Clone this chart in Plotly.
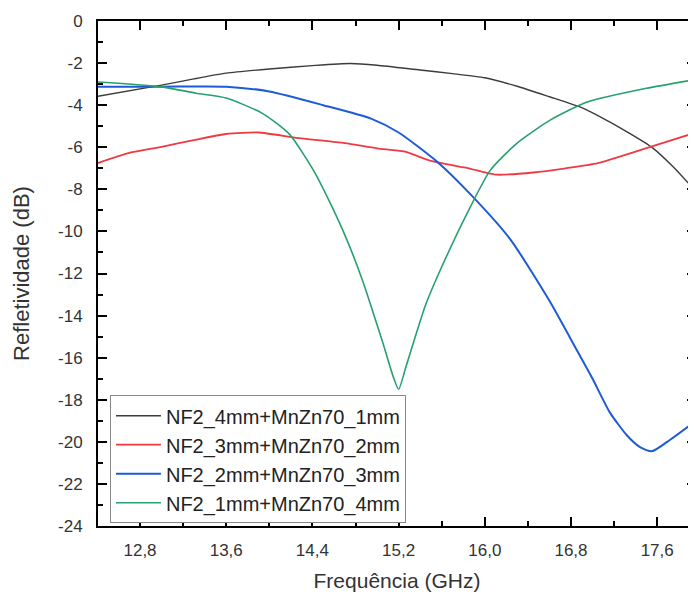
import plotly.graph_objects as go

# ---- data ----
names = ["NF2_4mm+MnZn70_1mm", "NF2_3mm+MnZn70_2mm", "NF2_2mm+MnZn70_3mm", "NF2_1mm+MnZn70_4mm"]

black_x = [12.41, 13.0, 13.3, 13.6, 14.0, 14.4, 14.75, 15.0, 15.4, 15.7, 16.0, 16.3, 16.6, 16.9, 17.05, 17.34, 17.56, 17.75, 17.96]
black_y = [-3.58, -3.05, -2.75, -2.48, -2.28, -2.12, -2.02, -2.1, -2.33, -2.5, -2.7, -3.1, -3.6, -4.12, -4.5, -5.33, -6.04, -6.94, -8.1]

red_x = [12.41, 12.7, 13.0, 13.3, 13.6, 13.9, 14.25, 14.7, 15.0, 15.25, 15.5, 15.85, 16.1, 16.45, 16.75, 17.05, 17.5, 17.96]
red_y = [-6.75, -6.27, -5.98, -5.66, -5.37, -5.3, -5.55, -5.8, -6.05, -6.2, -6.65, -7.0, -7.3, -7.2, -7.0, -6.75, -6.04, -5.3]

blue_x = [12.41, 13.0, 13.6, 14.0, 14.5, 14.95, 15.2, 15.56, 15.89, 16.24, 16.6, 16.86, 17.0, 17.16, 17.32, 17.44, 17.55, 17.72, 17.96]
blue_y = [-3.12, -3.12, -3.12, -3.35, -4.0, -4.65, -5.3, -6.7, -8.36, -10.4, -13.3, -15.7, -17.0, -18.6, -19.7, -20.25, -20.45, -19.9, -19.0]

green_x = [12.41, 13.0, 13.32, 13.6, 13.94, 14.19, 14.41, 14.56, 14.72, 14.87, 14.96, 15.06, 15.15, 15.2, 15.27, 15.45, 15.59, 15.84, 16.05, 16.3, 16.61, 16.95, 17.5, 17.96]
green_y = [-2.9, -3.13, -3.43, -3.66, -4.4, -5.4, -7.1, -8.6, -10.4, -12.4, -13.8, -15.4, -16.9, -17.5, -16.4, -13.5, -11.8, -9.1, -7.1, -5.8, -4.7, -3.85, -3.2, -2.78]

x_tickvals = [12.8, 13.6, 14.4, 15.2, 16.0, 16.8, 17.6]
x_ticktext = ["12,8", "13,6", "14,4", "15,2", "16,0", "16,8", "17,6"]
y_tickvals = [0, -2, -4, -6, -8, -10, -12, -14, -16, -18, -20, -22, -24]
y_ticktext = ["0", "-2", "-4", "-6", "-8", "-10", "-12", "-14", "-16", "-18", "-20", "-22", "-24"]

colors = ["#3c3c3c", "#ee3b43", "#1e5bd8", "#26a06e"]
widths = [1.4, 1.8, 2.0, 1.6]
series = [(black_x, black_y), (red_x, red_y), (blue_x, blue_y), (green_x, green_y)]

FONT = "Liberation Sans, Arial, sans-serif"

fig = go.Figure()
for (xs, ys), nm, c, w in zip(series, names, colors, widths):
    fig.add_trace(go.Scatter(x=xs, y=ys, mode="lines", name=nm,
                             line=dict(color=c, width=w, shape="spline", smoothing=0.6)))

axis_common = dict(showline=True, linewidth=2, linecolor="black", mirror="ticks",
                   ticks="inside", ticklen=9, tickwidth=2, tickcolor="black",
                   showgrid=False, zeroline=False, automargin=False,
                   tickfont=dict(family=FONT, size=17, color="#333"))

fig.update_xaxes(range=[12.41, 17.96], tickvals=x_tickvals, ticktext=x_ticktext,
                 minor=dict(ticks="inside", ticklen=5, tickwidth=2, tickcolor="black", dtick=0.4, tick0=12.8),
                 title=dict(text="Frequência (GHz)", font=dict(family=FONT, size=21, color="#333"), standoff=14),
                 ticklabelstandoff=8, **axis_common)
fig.update_yaxes(range=[-24, 0], tickvals=y_tickvals, ticktext=y_ticktext,
                 minor=dict(ticks="inside", ticklen=5, tickwidth=2, tickcolor="black", dtick=1, tick0=0),
                 title=dict(text="Refletividade (dB)", font=dict(family=FONT, size=22, color="#333"), standoff=22),
                 ticklabelstandoff=10, **axis_common)

# page body has an 8px default margin, so the figure is sized/placed to compensate
fig.update_layout(
    width=688, height=587,
    margin=dict(l=90, r=0, t=13, b=69, autoexpand=False),
    plot_bgcolor="white", paper_bgcolor="white",
    showlegend=True,
    legend=dict(x=0.02, y=0.259, xanchor="left", yanchor="top",
                bgcolor="white", bordercolor="#888", borderwidth=1,
                font=dict(family=FONT, size=20, color="#222"),
                tracegroupgap=0, itemwidth=45),
)

fig.write_html("out.html")
